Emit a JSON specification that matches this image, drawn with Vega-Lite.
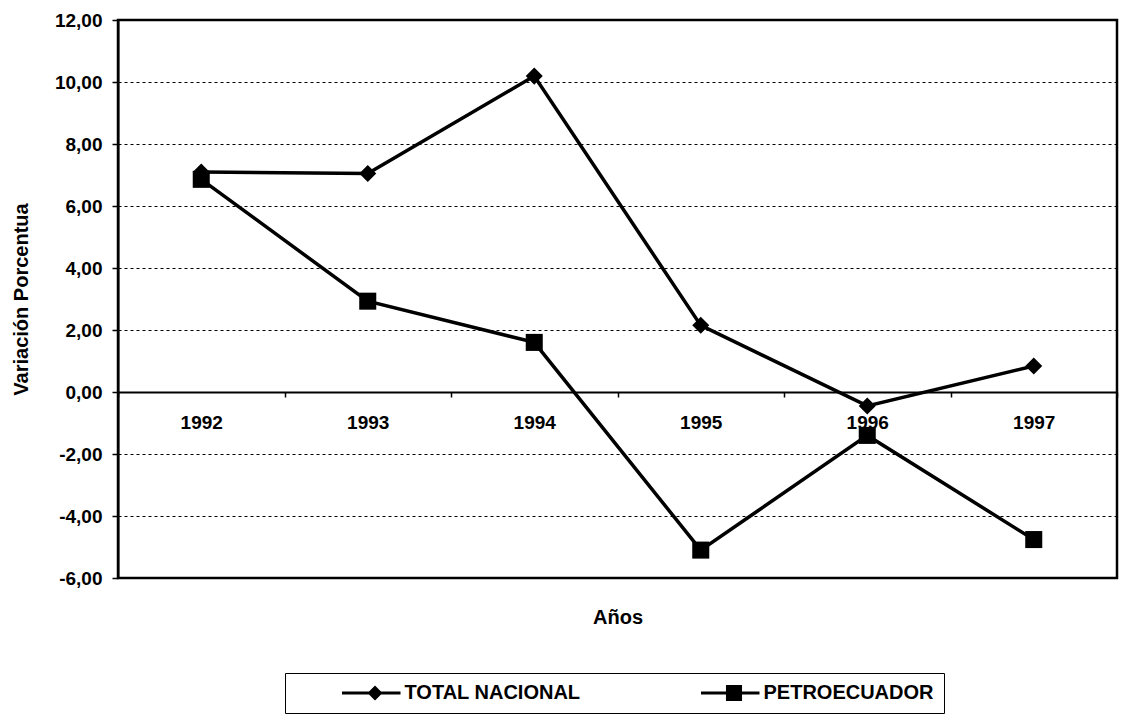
{
  "$schema": "https://vega.github.io/schema/vega-lite/v6.json",
  "width": 999,
  "height": 558,
  "autosize": "none",
  "padding": {"left": 118, "top": 20, "right": 9, "bottom": 137},
  "background": "white",
  "config": {
    "view": {"stroke": "black", "strokeWidth": 2.5},
    "font": "Liberation Sans"
  },
  "data": {
    "values": [
      {"anio": "1992", "serie": "TOTAL NACIONAL", "valor": 7.10},
      {"anio": "1993", "serie": "TOTAL NACIONAL", "valor": 7.05},
      {"anio": "1994", "serie": "TOTAL NACIONAL", "valor": 10.19},
      {"anio": "1995", "serie": "TOTAL NACIONAL", "valor": 2.15},
      {"anio": "1996", "serie": "TOTAL NACIONAL", "valor": -0.45},
      {"anio": "1997", "serie": "TOTAL NACIONAL", "valor": 0.84},
      {"anio": "1992", "serie": "PETROECUADOR", "valor": 6.86},
      {"anio": "1993", "serie": "PETROECUADOR", "valor": 2.93},
      {"anio": "1994", "serie": "PETROECUADOR", "valor": 1.60},
      {"anio": "1995", "serie": "PETROECUADOR", "valor": -5.10},
      {"anio": "1996", "serie": "PETROECUADOR", "valor": -1.40},
      {"anio": "1997", "serie": "PETROECUADOR", "valor": -4.76}
    ]
  },
  "encoding": {
    "x": {
      "field": "anio",
      "type": "ordinal",
      "scale": {"type": "band", "paddingInner": 0, "paddingOuter": 0},
      "axis": {
        "orient": "bottom",
        "offset": -186,
        "title": "Años",
        "titleFontSize": 20,
        "titleFontWeight": "bold",
        "titleColor": "black",
        "titleY": 225,
        "titleBaseline": "middle",
        "labelAngle": 0,
        "labelFontSize": 19,
        "labelFontWeight": "bold",
        "labelColor": "black",
        "labelBaseline": "middle",
        "labelPadding": 25,
        "domainColor": "black",
        "domainWidth": 2,
        "tickColor": "black",
        "tickSize": 5,
        "tickWidth": 1.5,
        "tickBand": "extent",
        "grid": false
      }
    },
    "y": {
      "field": "valor",
      "type": "quantitative",
      "scale": {"domain": [-6, 12], "nice": false, "zero": false},
      "axis": {
        "values": [-6, -4, -2, 0, 2, 4, 6, 8, 10, 12],
        "labelExpr": "replace(replace(format(datum.value, '.2f'), '.', ','), '−', '-')",
        "title": "Variación Porcentua",
        "titleFontSize": 20,
        "titleFontWeight": "bold",
        "titleColor": "black",
        "titleX": -97,
        "titleBaseline": "middle",
        "labelFontSize": 19,
        "labelFontWeight": "bold",
        "labelColor": "black",
        "labelPadding": 10,
        "domainColor": "black",
        "domainWidth": 2,
        "tickColor": "black",
        "tickSize": 6,
        "tickWidth": 1.5,
        "grid": true,
        "gridColor": "black",
        "gridDash": [3, 3],
        "gridWidth": 1,
        "gridOpacity": 1
      }
    }
  },
  "layer": [
    {
      "mark": {"type": "line", "color": "black", "strokeWidth": 3.5},
      "encoding": {"detail": {"field": "serie"}}
    },
    {
      "mark": {"type": "point", "filled": true, "color": "black", "opacity": 1, "size": 290},
      "encoding": {
        "shape": {
          "field": "serie",
          "type": "nominal",
          "scale": {"domain": ["TOTAL NACIONAL", "PETROECUADOR"], "range": ["diamond", "square"]},
          "legend": null
        }
      }
    },
    {
      "mark": {"type": "point", "filled": true, "color": "black", "opacity": 0, "size": 225},
      "encoding": {
        "shape": {
          "field": "serie",
          "type": "nominal",
          "scale": {
            "domain": ["TOTAL NACIONAL", "PETROECUADOR"],
            "range": [
              "M-4.4,-0.2L3.4,-0.2L3.4,0.2L-4.4,0.2Z M0,-1L1,0L0,1L-1,0Z",
              "M-4.4,-0.2L3.4,-0.2L3.4,0.2L-4.4,0.2Z M-1.07,-1.07L1.07,-1.07L1.07,1.07L-1.07,1.07Z"
            ]
          },
          "legend": {
            "orient": "none",
            "legendX": 167,
            "legendY": 653,
            "direction": "horizontal",
            "title": " ",
            "titleOrient": "left",
            "titleFontSize": 1,
            "titlePadding": 70,
            "padding": 10,
            "strokeColor": "black",
            "fillColor": "white",
            "labelFont": "Liberation Sans",
            "labelFontSize": 20,
            "labelFontWeight": "bold",
            "labelColor": "black",
            "labelLimit": 400,
            "labelOffset": 19.5,
            "columnPadding": 120,
            "symbolSize": 225,
            "symbolFillColor": "black",
            "symbolStrokeColor": "black",
            "symbolStrokeWidth": 0,
            "symbolOpacity": 1,
            "encode": {
              "legend": {"update": {"strokeWidth": {"value": 2}}}
            }
          }
        }
      }
    }
  ],
  "resolve": {"scale": {"shape": "independent"}}
}
